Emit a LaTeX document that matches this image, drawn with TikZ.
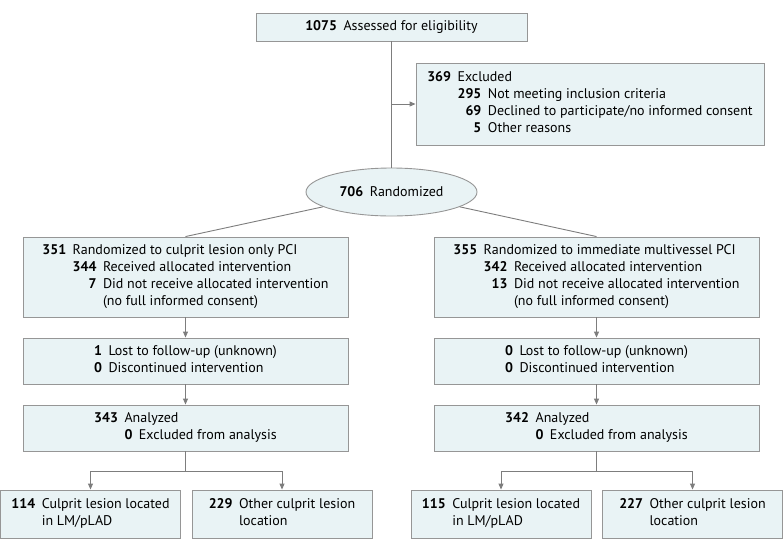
\documentclass[tikz,border=0pt]{standalone}
\usepackage{fontspec}
\setmainfont{PT Sans}
\usepackage{tikz}
\usetikzlibrary{shapes, positioning, calc, arrows.meta}
\definecolor{boxfill}{RGB}{233,243,245}
\definecolor{boxline}{RGB}{150,150,150}
\definecolor{flowline}{RGB}{125,125,125}
\newcommand{\nm}[1]{\textbf{#1}}
\newcommand{\gap}{\hspace{6.5pt}}

\begin{document}
\begin{tikzpicture}[x=1pt, y=-1pt,
	every node/.style={font=\fontsize{14}{17}\selectfont},
	flowbox/.style={draw=boxline, fill=boxfill, line width=0.9pt, inner sep=0pt},
	flow/.style={draw=flowline, line width=0.9pt},
	tip/.style={-{Triangle[length=6pt, width=5pt]}}]
				\useasboundingbox (0,0) rectangle (783,552);
				%% screening
				\node[flowbox, minimum width=271, minimum height=28] (assessed) at (391.5,27) {\nm{1075}\gap Assessed for eligibility};
				\node[flowbox, minimum width=348, minimum height=82] (excluded) at (590,104) {\begin{tabular}{@{}r@{\gap}r@{\gap}l@{}}
					\nm{369} & \multicolumn{2}{@{}l@{}}{Excluded}\\
					& \nm{295} & Not meeting inclusion criteria\\
					& \nm{69} & Declined to participate/no informed consent\\
					& \nm{5} & Other reasons
				\end{tabular}};
				\node[flowbox, ellipse, minimum width=171, minimum height=48] (randomized) at (391.5,192) {\nm{706}\gap Randomized};
				
				%% allocation
				\node[flowbox, minimum width=325, minimum height=80] (allocL) at (185.5,277) {\begin{tabular}{@{}r@{\gap}r@{\gap}l@{}}
					\nm{351} & \multicolumn{2}{@{}l@{}}{Randomized to culprit lesion only PCI}\\
					& \nm{344} & Received allocated intervention\\
					& \nm{7} & Did not receive allocated intervention\\
					& & (no full informed consent)
				\end{tabular}};
				\node[flowbox, minimum width=325, minimum height=80] (allocR) at (596.5,277) {\begin{tabular}{@{}r@{\gap}r@{\gap}l@{}}
					\nm{355} & \multicolumn{2}{@{}l@{}}{Randomized to immediate multivessel PCI}\\
					& \nm{342} & Received allocated intervention\\
					& \nm{13} & Did not receive allocated intervention\\
					& & (no full informed consent)
				\end{tabular}};
				
				%% follow-up
				\node[flowbox, minimum width=325, minimum height=46] (followL) at (185.5,361) {\begin{tabular}{@{}r@{\gap}l@{}}
					\nm{1} & Lost to follow-up (unknown)\\
					\nm{0} & Discontinued intervention
				\end{tabular}};
				\node[flowbox, minimum width=325, minimum height=46] (followR) at (596.5,361) {\begin{tabular}{@{}r@{\gap}l@{}}
					\nm{0} & Lost to follow-up (unknown)\\
					\nm{0} & Discontinued intervention
				\end{tabular}};
				
				%% analysis
				\node[flowbox, minimum width=325, minimum height=46] (analysL) at (185.5,428) {\begin{tabular}{@{}r@{\gap}r@{\gap}l@{}}
					\nm{343} & \multicolumn{2}{@{}l@{}}{Analyzed}\\
					& \nm{0} & Excluded from analysis
				\end{tabular}};
				\node[flowbox, minimum width=325, minimum height=46] (analysR) at (596.5,428) {\begin{tabular}{@{}r@{\gap}r@{\gap}l@{}}
					\nm{342} & \multicolumn{2}{@{}l@{}}{Analyzed}\\
					& \nm{0} & Excluded from analysis
				\end{tabular}};
				
				%% lesion location
				\node[flowbox, minimum width=180, minimum height=48] (lmL) at (90.5,514) {\begin{tabular}{@{}r@{\gap}l@{}}
					\nm{114} & Culprit lesion located\\ & in LM/pLAD
				\end{tabular}};
				\node[flowbox, minimum width=180, minimum height=48] (otherL) at (282,514) {\begin{tabular}{@{}r@{\gap}l@{}}
					\nm{229} & Other culprit lesion\\ & location
				\end{tabular}};
				\node[flowbox, minimum width=180, minimum height=48] (lmR) at (501,514) {\begin{tabular}{@{}r@{\gap}l@{}}
					\nm{115} & Culprit lesion located\\ & in LM/pLAD
				\end{tabular}};
				\node[flowbox, minimum width=180, minimum height=48] (otherR) at (692.5,514) {\begin{tabular}{@{}r@{\gap}l@{}}
					\nm{227} & Other culprit lesion\\ & location
				\end{tabular}};
				
				%% connectors
				\coordinate (exclsplit) at (assessed.south |- excluded.west);
				\draw[flow] (assessed) -- (randomized);
				\draw[flow, tip] (exclsplit) -- (excluded.west);
				\draw[flow] (randomized) -- (allocL.north);
				\draw[flow] (randomized) -- (allocR.north);
				\draw[flow, tip] (allocL) -- (followL);
				\draw[flow, tip] (followL) -- (analysL);
				\draw[flow, tip] (allocR) -- (followR);
				\draw[flow, tip] (followR) -- (analysR);
				\draw[flow, tip] (analysL.south) -- ++(0,20) -| (lmL.north);
				\draw[flow, tip] (analysL.south) -- ++(0,20) -| (otherL.north);
				\draw[flow, tip] (analysR.south) -- ++(0,20) -| (lmR.north);
				\draw[flow, tip] (analysR.south) -- ++(0,20) -| (otherR.north);
\end{tikzpicture}
\end{document}
